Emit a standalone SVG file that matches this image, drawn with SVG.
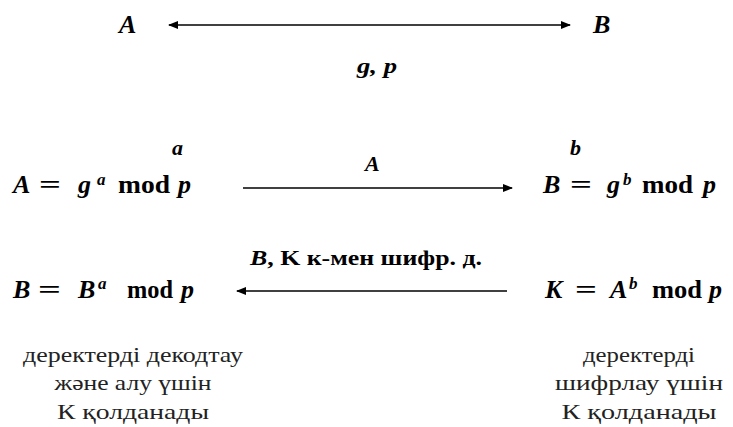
<svg xmlns="http://www.w3.org/2000/svg" width="733" height="427" viewBox="0 0 733 427">
<style>
text{font-family:'Liberation Serif','Times New Roman',serif}
.v{font-weight:bold;font-style:italic;fill:#000}
.m{font-weight:bold;fill:#000}
.f{font-size:26px}
.s{font-size:17px}
.lab{font-size:22px}
.t{font-size:22px;fill:#222;text-anchor:middle}
.ln{stroke:#000;stroke-width:1.6;fill:none}
</style>
<defs>
<marker id="ah" viewBox="0 0 10 8" refX="9" refY="4" markerWidth="10" markerHeight="8" markerUnits="userSpaceOnUse" orient="auto-start-reverse">
<path d="M0,0 L10,4 L0,8 Z" fill="#000"/>
</marker>
</defs>
<g id="connectors">
<line class="ln" x1="169" y1="25" x2="570" y2="25" marker-start="url(#ah)" marker-end="url(#ah)"/>
<line class="ln" x1="243" y1="188" x2="512" y2="188" marker-end="url(#ah)"/>
<line class="ln" x1="507" y1="291" x2="237" y2="291" marker-end="url(#ah)"/>
</g>
<g id="nodeA"><text class="v f" x="119" y="33">A</text></g>
<g id="nodeB"><text class="v f" x="593" y="33">B</text></g>
<g id="labelGP"><text class="v lab" x="357" y="73" textLength="40" lengthAdjust="spacingAndGlyphs">g, p</text></g>
<g id="supA"><text class="v lab" x="172" y="155">a</text></g>
<g id="supB"><text class="v lab" x="570" y="155">b</text></g>
<g id="labelA"><text class="v lab" x="365" y="171">A</text></g>
<g id="labelBK"><text class="lab" x="250" y="265" textLength="232" lengthAdjust="spacingAndGlyphs"><tspan class="v">B</tspan><tspan class="m">, K к-мен шифр. д.</tspan></text></g>
<g id="eqA">
<text class="v f" x="13" y="193">A</text>
<text class="m f" x="39" y="193" textLength="22" lengthAdjust="spacingAndGlyphs">=</text>
<text class="v f" x="78" y="193">g</text>
<text class="v s" x="97" y="185">a</text>
<text class="m f" x="118" y="193" textLength="52" lengthAdjust="spacingAndGlyphs">mod</text>
<text class="v f" x="178" y="193">p</text>
</g>
<g id="eqB">
<text class="v f" x="543" y="193">B</text>
<text class="m f" x="570" y="193" textLength="22" lengthAdjust="spacingAndGlyphs">=</text>
<text class="v f" x="607" y="193">g</text>
<text class="v s" x="623" y="185">b</text>
<text class="m f" x="642" y="193" textLength="51" lengthAdjust="spacingAndGlyphs">mod</text>
<text class="v f" x="703" y="193">p</text>
</g>
<g id="eqBB">
<text class="v f" x="13" y="298">B</text>
<text class="m f" x="38" y="298" textLength="23" lengthAdjust="spacingAndGlyphs">=</text>
<text class="v f" x="78" y="298">B</text>
<text class="v s" x="98" y="289">a</text>
<text class="m f" x="127" y="298" textLength="46" lengthAdjust="spacingAndGlyphs">mod</text>
<text class="v f" x="181" y="298">p</text>
</g>
<g id="eqK">
<text class="v f" x="545" y="298">K</text>
<text class="m f" x="575" y="298" textLength="22" lengthAdjust="spacingAndGlyphs">=</text>
<text class="v f" x="610" y="298">A</text>
<text class="v s" x="629" y="289">b</text>
<text class="m f" x="652" y="298" textLength="50" lengthAdjust="spacingAndGlyphs">mod</text>
<text class="v f" x="709" y="298">p</text>
</g>
<g id="noteLeft">
<text class="t" x="133" y="362" textLength="220" lengthAdjust="spacingAndGlyphs">деректерді декодтау</text>
<text class="t" x="133" y="390" textLength="157" lengthAdjust="spacingAndGlyphs">және алу үшін</text>
<text class="t" x="133" y="419" textLength="152" lengthAdjust="spacingAndGlyphs">К қолданады</text>
</g>
<g id="noteRight">
<text class="t" x="639" y="362" textLength="112" lengthAdjust="spacingAndGlyphs">деректерді</text>
<text class="t" x="639" y="390" textLength="168" lengthAdjust="spacingAndGlyphs">шифрлау үшін</text>
<text class="t" x="639" y="419" textLength="155" lengthAdjust="spacingAndGlyphs">К қолданады</text>
</g>
</svg>
